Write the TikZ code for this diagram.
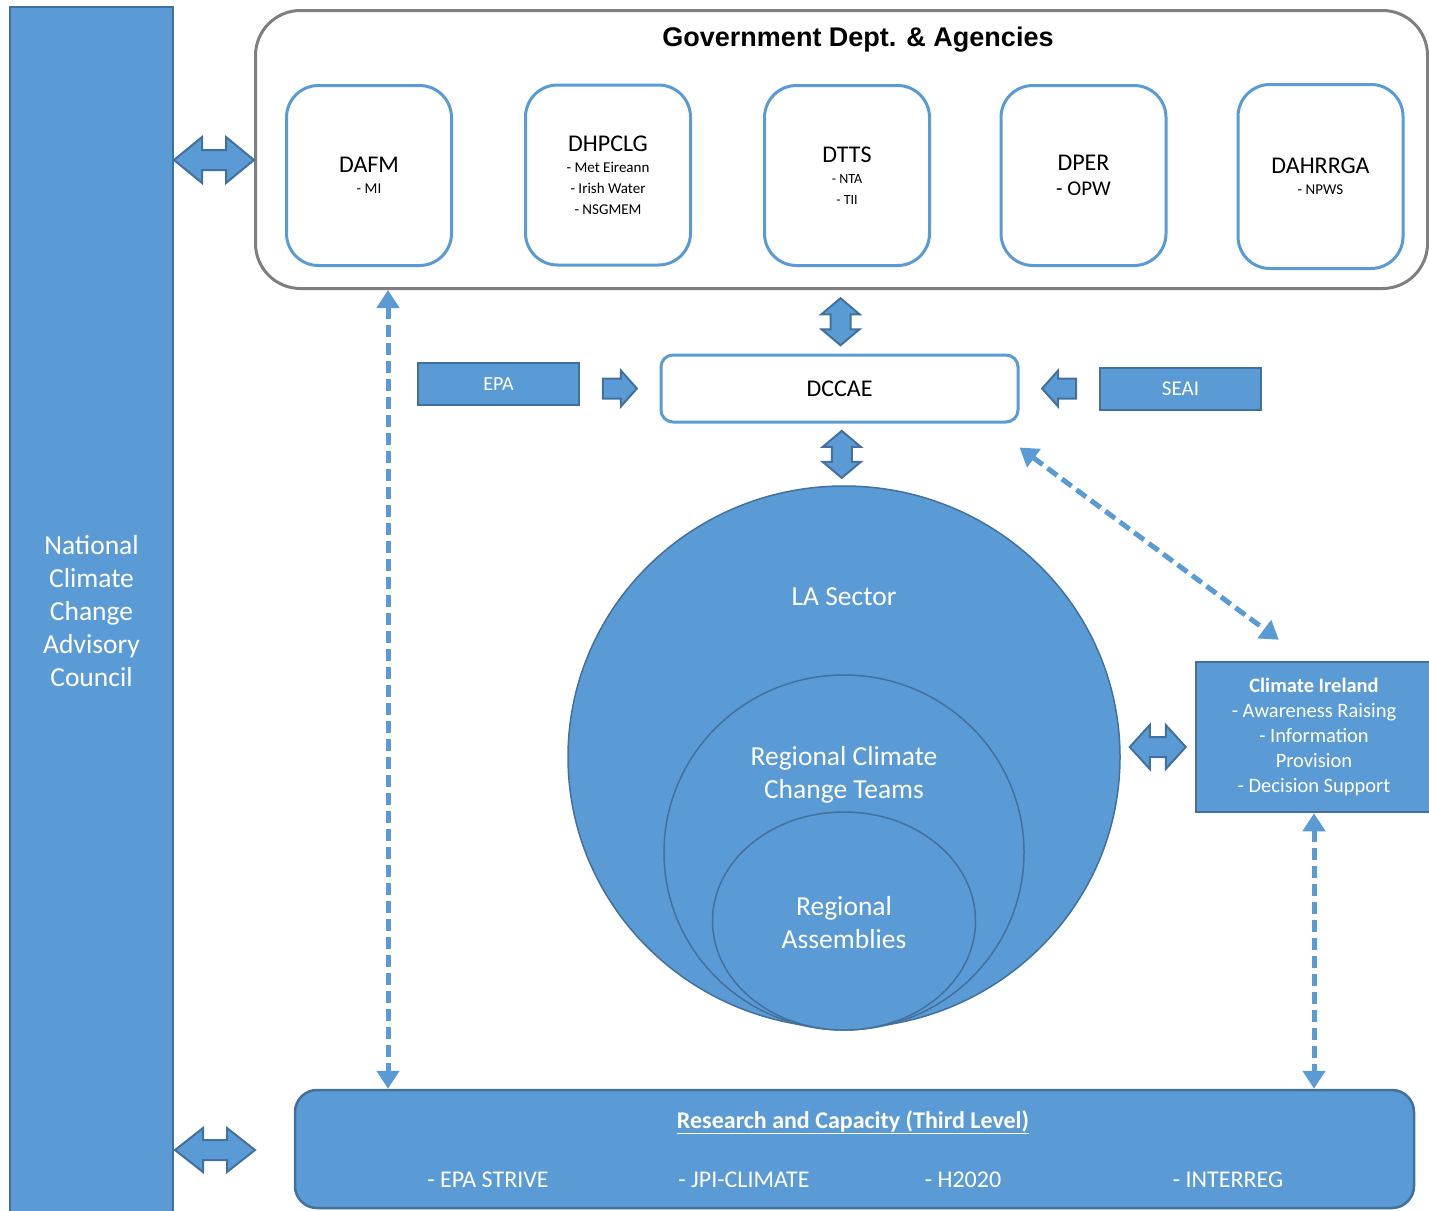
\documentclass[tikz,border=0pt]{standalone}
\usepackage{fontspec}
\setmainfont{Carlito}
\newfontfamily\arialfont{Liberation Sans}
\usetikzlibrary{shapes.geometric, arrows.meta, calc, positioning}

\definecolor{cblue}{HTML}{5B9BD5}
\definecolor{cdark}{HTML}{41719C}
\definecolor{cgray}{HTML}{7F7F7F}

\newcommand{\deptname}{\fontsize{24pt}{21pt}\selectfont}

\tikzset{
  bluebox/.style={draw=cdark, line width=2.5pt, fill=cblue, text=white, inner sep=0pt},
  deptbox/.style={draw=cblue, line width=3pt, fill=white, rounded corners=32pt,
    minimum width=165pt, minimum height=180pt, align=center,
    font=\fontsize{15pt}{21pt}\selectfont},
  govbox/.style={draw=cgray, line width=3pt, rounded corners=45pt,
    minimum width=1172pt, minimum height=278pt},
  circ/.style={ellipse, draw=cdark, line width=1.5pt, fill=cblue, inner sep=0pt},
  circtext/.style={text=white, align=center, font=\fontsize{27.5pt}{33pt}\selectfont},
  restext/.style={text=white, font=\fontsize{24pt}{27pt}\selectfont},
  blockarrow/.style={draw=cdark, line width=2pt, fill=cblue, line join=miter},
  dasharrow/.style={draw=cblue, line width=5pt, dash pattern=on 12pt off 6pt,
    {Triangle[width=22pt,length=18pt]}-{Triangle[width=22pt,length=18pt]}},
  pics/dblarrow/.style n args={3}{code={
    \draw[blockarrow] (-#1,0) -- (-#1+#2,-#3) -- (-#1+#2,-10) -- (#1-#2,-10)
      -- (#1-#2,-#3) -- (#1,0) -- (#1-#2,#3) -- (#1-#2,10) -- (-#1+#2,10)
      -- (-#1+#2,#3) -- cycle;
  }},
  pics/onearrow/.style n args={3}{code={
    \draw[blockarrow] (-#1,-10) -- (#1-#2,-10) -- (#1-#2,-#3) -- (#1,0)
      -- (#1-#2,#3) -- (#1-#2,10) -- (-#1,10) -- cycle;
  }},
}

\begin{document}
\begin{tikzpicture}[x=1pt, y=-1pt]
  \fill[white] (0,0) rectangle (1429,1210);
  \useasboundingbox (0,0) rectangle (1429,1210);

  % Advisory council bar
  \node[bluebox, minimum width=163pt, minimum height=1215pt] (ncc) at (91.5,614.5) {};
  \node[align=center, text=white, font=\fontsize{27.5pt}{33pt}\selectfont] (ncctext)
    at (91.5,611) {National\\Climate\\Change\\Advisory\\Council};

  % Government departments
  \node[govbox] (gov) at (841.5,149.5) {};
  \node[font=\arialfont\bfseries\fontsize{27pt}{30pt}\selectfont] (govtitle) at (858,40)
    {Government Dept. \& Agencies};
  \node[deptbox] (dafm) at (369,175.5) {{\deptname DAFM}\\- MI};
  \node[deptbox] (dhpclg) at (608,175) {{\deptname DHPCLG}\\- Met Eireann\\- Irish Water\\- NSGMEM};
  \node[deptbox, font=\fontsize{14pt}{21pt}\selectfont] (dtts) at (847,175.5) {{\deptname DTTS}\\- NTA\\- TII};
  \node[deptbox, font=\fontsize{21pt}{25pt}\selectfont] (dper) at (1083.5,175.5) {{\deptname DPER}\\- OPW};
  \node[deptbox, minimum height=184pt] (dahrrga) at (1320.5,176.5) {{\deptname DAHRRGA}\\- NPWS};

  % DCCAE row
  \node[draw=cblue, line width=3pt, fill=white, rounded corners=12pt,
    minimum width=357pt, minimum height=67pt, font=\fontsize{24pt}{28pt}\selectfont]
    (dccae) at (839.5,388.5) {DCCAE};
  \node[bluebox, minimum width=161pt, minimum height=42pt,
    font=\fontsize{20pt}{24pt}\selectfont] (epa) at (498.5,384) {EPA};
  \node[bluebox, minimum width=161pt, minimum height=42pt,
    font=\fontsize{21pt}{24pt}\selectfont] (seai) at (1180.5,389) {SEAI};

  % LA sector circles
  \node[circ, minimum width=552pt, minimum height=542pt] (lasector) at (844,757) {};
  \node[circ, minimum width=360pt, minimum height=355pt] (rcct) at (844,852.5) {};
  \node[circ, minimum width=263pt, minimum height=218pt] (ra) at (844,921) {};
  \node[circtext] (latext) at (844,597) {LA Sector};
  \node[circtext] (rccttext) at (844,774.5) {Regional Climate\\Change Teams};
  \node[circtext] (ratext) at (844,922.5) {Regional\\Assemblies};

  % Climate Ireland
  \node[bluebox, minimum width=236pt, minimum height=150pt, align=center,
    font=\fontsize{20.5pt}{25pt}\selectfont] (ci) at (1314,737)
    {\textbf{Climate Ireland}\\- Awareness Raising\\- Information\\Provision\\- Decision Support};

  % Research
  \node[bluebox, rounded corners=22pt, minimum width=1119pt, minimum height=118pt]
    (research) at (854.5,1149) {};
  \node[restext, font=\bfseries\fontsize{24pt}{26pt}\selectfont] (restitle) at (853,1122)
    {\underline{Research and Capacity (Third Level)}};
  \node[restext] (strive) at (488,1180) {- EPA STRIVE};
  \node[restext] (jpi) at (744,1180) {- JPI-CLIMATE};
  \node[restext] (h2020) at (963,1180) {- H2020};
  \node[restext] (interreg) at (1228,1180) {- INTERREG};

  % Block arrows
  \pic at (214,160) {dblarrow={40}{28}{23}};
  \pic at (215,1150) {dblarrow={40}{28}{22}};
  \pic[rotate=90] at ($(gov.south)!0.5!(dccae.north)$) {dblarrow={23.5}{16}{19}};
  \pic[rotate=90] at ($(dccae.south)!0.5!(lasector.north)$) {dblarrow={23.5}{16}{19}};
  \pic at ($(lasector.east)!0.5!(ci.west)$) {dblarrow={28}{20}{22}};
  \pic at ($(epa.east |- dccae)!0.5!(dccae.west)$) {onearrow={17}{16}{18}};
  \pic[rotate=180] at ($(dccae.east)!0.5!(seai.west |- dccae)$) {onearrow={17}{16}{18}};

  % Dashed links
  \draw[dasharrow] (388,0 |- gov.south) -- (388,0 |- research.north);
  \draw[dasharrow] (ci.south) -- (ci.south |- research.north);
  \draw[dasharrow] ([shift={(0pt,-24pt)}]dccae.south east) -- ([shift={(84pt,21pt)}]ci.north west);
\end{tikzpicture}
\end{document}
